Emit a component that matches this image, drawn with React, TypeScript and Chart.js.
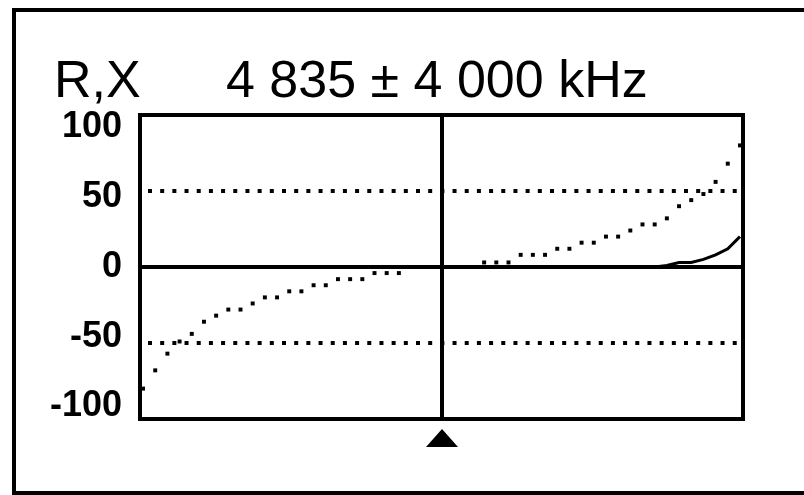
import React, { useEffect, useRef } from 'react';
import { Chart, registerables } from 'chart.js';

Chart.register(...registerables);

// ---- data ----
const titleLeft = 'R,X';
const titleFreq = '4 835 ± 4 000 kHz';

const sweepIndex = [
  0, 1, 2, 3, 4, 5, 6, 7, 8, 9,
  10, 11, 12, 13, 14, 15, 16, 17, 18, 19,
  20, 21, 22, 23, 24, 25, 26, 27, 28, 29,
  30, 31, 32, 33, 34, 35, 36, 37, 38, 39,
  40, 41, 42, 43, 44, 45, 46, 47, 48, 49,
];

// X (reactance), dotted curve
const reactance = [
  -80, -68, -57, -49, -44, -36, -32, -28, -28, -24,
  -20, -20, -16, -16, -12, -12, -8, -8, -8, -4,
  -4, -4, 0, 0, 0, 0, 0, 0, 3, 3,
  3, 8, 8, 8, 12, 12, 16, 16, 20, 20,
  24, 28, 28, 32, 40, 44, 48, 56, 68, 80,
];

// R (resistance), solid curve
const resistance = [
  0, 0, 0, 0, 0, 0, 0, 0, 0, 0,
  0, 0, 0, 0, 0, 0, 0, 0, 0, 0,
  0, 0, 0, 0, 0, 0, 0, 0, 0, 0,
  0, 0, 0, 0, 0, 0, 0, 0, 0, 0,
  0, 0, 0, 1, 3, 3, 5, 8, 12, 20,
];

const yTicks = [100, 50, 0, -50, -100];
const dottedLevels = [50, -50];
const centerIndex = 24.5;
const xMin = -0.25;
const xMax = 49.25;
const yMin = -100;
const yMax = 100;
const labelRange = 109;

const lcdPlugin = {
  id: 'lcdGrid',
  beforeDatasetsDraw(chart: any) {
    const { ctx, chartArea } = chart;
    const xs = chart.scales.x;
    const ys = chart.scales.y;
    const step = Math.abs(xs.getPixelForValue(1) - xs.getPixelForValue(0));
    ctx.save();
    ctx.strokeStyle = '#000';
    // dotted levels
    ctx.lineWidth = 4;
    ctx.lineCap = 'butt';
    ctx.setLineDash([4, step - 4]);
    dottedLevels.forEach((v) => {
      const y = Math.round(ys.getPixelForValue(v));
      ctx.beginPath();
      ctx.moveTo(chartArea.left + 8, y);
      ctx.lineTo(chartArea.right - 4, y);
      ctx.stroke();
    });
    ctx.setLineDash([]);
    // zero line
    const y0 = Math.round(ys.getPixelForValue(0));
    ctx.beginPath();
    ctx.moveTo(chartArea.left, y0);
    ctx.lineTo(chartArea.right, y0);
    ctx.stroke();
    // center vertical line
    const cx = Math.round(xs.getPixelForValue(centerIndex));
    ctx.beginPath();
    ctx.moveTo(cx, chartArea.top);
    ctx.lineTo(cx, chartArea.bottom);
    ctx.stroke();
    // frame
    ctx.strokeRect(chartArea.left, chartArea.top, chartArea.right - chartArea.left, chartArea.bottom - chartArea.top);
    // center marker triangle
    ctx.fillStyle = '#000';
    ctx.beginPath();
    ctx.moveTo(cx, chartArea.bottom + 10);
    ctx.lineTo(cx + 16, chartArea.bottom + 28);
    ctx.lineTo(cx - 16, chartArea.bottom + 28);
    ctx.closePath();
    ctx.fill();
    ctx.restore();
  },
};

export default function App() {
  const ref = useRef<HTMLCanvasElement | null>(null);

  useEffect(() => {
    if (!ref.current) return;
    const chart = new Chart(ref.current, {
      type: 'line',
      data: {
        datasets: [
          {
            label: 'X',
            data: sweepIndex.map((i, k) => ({ x: i, y: reactance[k] })),
            showLine: false,
            pointStyle: 'rect',
            pointRadius: 2.8,
            pointBorderWidth: 0,
            pointBackgroundColor: '#000',
            borderColor: '#000',
            yAxisID: 'y',
            clip: false,
          },
          {
            label: 'R',
            data: sweepIndex.map((i, k) => ({ x: i, y: resistance[k] })),
            borderColor: '#000',
            borderWidth: 3,
            pointRadius: 0,
            tension: 0,
            yAxisID: 'y',
          },
        ],
      },
      options: {
        responsive: false,
        animation: false,
        events: [],
        layout: { padding: { left: 0, right: 61, top: 115, bottom: 76 } },
        plugins: {
          legend: { display: false },
          tooltip: { enabled: false },
          title: { display: false },
        },
        scales: {
          x: { type: 'linear', min: xMin, max: xMax, display: false },
          y: { type: 'linear', min: yMin, max: yMax, display: false },
          yLabels: {
            type: 'linear',
            position: 'left',
            min: -labelRange,
            max: labelRange,
            grid: { display: false, drawTicks: false },
            border: { display: false },
            afterBuildTicks: (scale: any) => {
              scale.ticks = yTicks.map((v) => ({ value: v }));
            },
            afterFit: (scale: any) => {
              scale.width = 140;
            },
            ticks: {
              padding: 18,
              color: '#000',
              font: { family: '"Liberation Sans", Arial, sans-serif', size: 36, weight: 'bold' },
              callback: (v: any) => String(v),
            },
          },
        },
      },
      plugins: [lcdPlugin],
    } as any);
    return () => chart.destroy();
  }, []);

  const textStyle: React.CSSProperties = {
    position: 'absolute',
    top: 53,
    fontFamily: '"Liberation Sans", Arial, sans-serif',
    fontSize: 52,
    lineHeight: '52px',
    color: '#000',
    whiteSpace: 'pre',
    margin: 0,
  };

  return (
    <div style={{ position: 'fixed', left: 0, top: 0, width: 804, height: 495, overflow: 'hidden', background: '#fff' }}>
      <div
        style={{
          position: 'absolute',
          left: 12,
          top: 8,
          width: 820,
          height: 487,
          border: '4px solid #000',
          boxSizing: 'border-box',
        }}
      />
      <span style={{ ...textStyle, left: 54 }}>{titleLeft}</span>
      <span style={{ ...textStyle, left: 226 }}>{titleFreq}</span>
      <canvas ref={ref} width={804} height={495} style={{ position: 'absolute', left: 0, top: 0 }} />
    </div>
  );
}
